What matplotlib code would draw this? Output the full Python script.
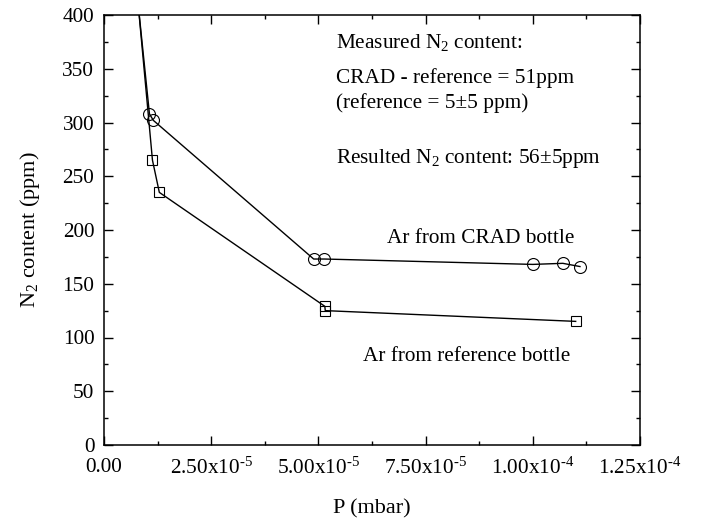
import matplotlib
matplotlib.use("Agg")
import matplotlib.pyplot as plt
from matplotlib.ticker import MultipleLocator, FuncFormatter
import numpy as np

plt.rcParams['font.family'] = ['Liberation Serif', 'DejaVu Serif']
plt.rcParams['mathtext.fontset'] = 'custom'
plt.rcParams['mathtext.rm'] = 'Liberation Serif'
plt.rcParams['mathtext.it'] = 'Liberation Serif:italic'
plt.rcParams['mathtext.bf'] = 'Liberation Serif:bold'

# CRAD bottle series (first point lies above the plotted range)
crad_p = [7.6e-6, 1.06e-5, 1.15e-5, 4.89e-5, 5.14e-5, 1.00e-4, 1.07e-4, 1.11e-4]
crad_n2 = [424, 308, 302, 173, 173, 168, 169, 166]

# Reference bottle series
ref_p = [7.6e-6, 1.13e-5, 1.29e-5, 5.15e-5, 5.16e-5, 1.10e-4]
ref_n2 = [426, 265, 235, 129, 125, 115]

fig = plt.figure(figsize=(7.06, 5.23), dpi=100)
ax = fig.add_axes([104/706, 1-445/523, (640-104)/706, (445-15)/523])

ax.plot(crad_p, crad_n2, color='black', lw=1.0, marker='o', markersize=8.6,
        markerfacecolor='none', markeredgecolor='black', markeredgewidth=0.8)
ax.plot(ref_p, ref_n2, color='black', lw=1.0, marker='s', markersize=6.8,
        markerfacecolor='none', markeredgecolor='black', markeredgewidth=0.8)

ax.set_xlim(0, 1.25e-4)
ax.set_ylim(0, 400)
ax.xaxis.set_major_locator(MultipleLocator(2.5e-5))
ax.xaxis.set_minor_locator(MultipleLocator(1.25e-5))
ax.yaxis.set_major_locator(MultipleLocator(50))
ax.yaxis.set_minor_locator(MultipleLocator(25))

def xfmt(v, pos):
    if abs(v) < 1e-12:
        return '0.00'
    e = int(np.floor(np.log10(abs(v)) + 1e-9))
    m = v / 10**e
    return f'{m:.2f}x10$^{{\u2010{abs(e)}}}$'

ax.xaxis.set_major_formatter(FuncFormatter(xfmt))

ax.tick_params(which='both', direction='in', top=True, right=True, width=1.0,
               labelsize=15.3)
ax.tick_params(axis='x', pad=9)
ax.tick_params(axis='y', pad=7)
ax.tick_params(which='major', length=6.5)
ax.tick_params(which='minor', length=3)
for s in ax.spines.values():
    s.set_linewidth(1.1)

ax.set_xlabel('P (mbar)', fontsize=16, labelpad=15)
ax.set_ylabel('N$_2$ content (ppm)', fontsize=16, labelpad=15)

fs = 15.3
ax.text(5.40e-5, 369.6, 'Measured N$_2$ content:', fontsize=fs, va='baseline')
ax.text(5.40e-5, 337, 'CRAD - reference = 51ppm', fontsize=fs, va='baseline')
ax.text(5.40e-5, 313.8, '(reference = 5\u00b15 ppm)', fontsize=fs, va='baseline')
ax.text(5.40e-5, 262.6, 'Resulted N$_2$ content: 56\u00b15ppm', fontsize=fs, va='baseline')
ax.text(6.61e-5, 188, 'Ar from CRAD bottle', fontsize=fs, va='baseline')
ax.text(6.05e-5, 78, 'Ar from reference bottle', fontsize=fs, va='baseline')

fig.savefig('out.png', dpi=100)
